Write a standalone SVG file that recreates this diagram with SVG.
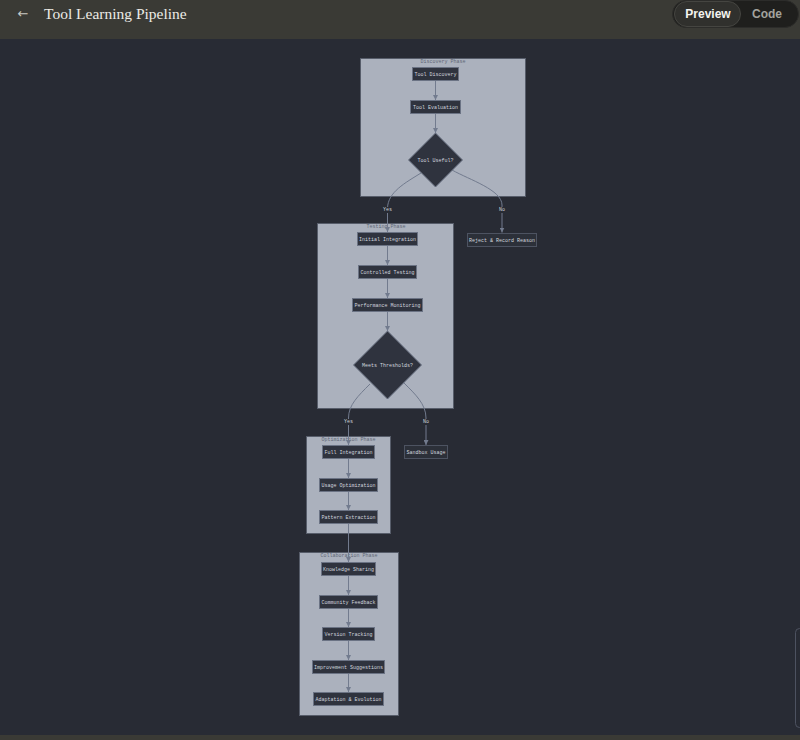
<svg xmlns="http://www.w3.org/2000/svg" width="800" height="740" viewBox="0 0 800 740">
  <defs>
    <marker id="arrow" viewBox="0 0 10 10" refX="10" refY="5" markerWidth="5" markerHeight="5" markerUnits="userSpaceOnUse" orient="auto">
      <path d="M0,0 L10,5 L0,10 z" fill="#727b8e"/>
    </marker>
    <style>
      .cluster { fill: #abb1bd; stroke: #575d6a; stroke-width: 1; }
      .ctitle { font-family: "Liberation Mono", "DejaVu Sans Mono", monospace; font-size: 5px; fill: #5f6776; text-anchor: middle; }
      .node rect, .node polygon { fill: #2f333e; stroke: #6b7384; stroke-width: 1; }
      .node.out rect { fill: #2c3039; stroke: #4d5361; }
      .node text { font-family: "Liberation Mono", "DejaVu Sans Mono", monospace; font-size: 5px; fill: #d2d6de; text-anchor: middle; dominant-baseline: central; }
      .edge { fill: none; stroke: #727b8e; stroke-width: 1; marker-end: url(#arrow); }
      .elabel { font-family: "Liberation Mono", "DejaVu Sans Mono", monospace; font-size: 5px; fill: #cfd3db; text-anchor: middle; dominant-baseline: central; }
    </style>
  </defs>

  <!-- page background and app chrome -->
  <rect x="0" y="0" width="800" height="740" fill="#282b34"/>
  <rect x="0" y="0" width="800" height="39" fill="#3a3a35"/>
  <rect x="0" y="735" width="800" height="5" fill="#3a3a35"/>
  <text x="23" y="13.5" font-family="DejaVu Sans, sans-serif" font-size="13" fill="#c9c9c4" text-anchor="middle" dominant-baseline="central">←</text>
  <text x="44" y="13" font-family="Liberation Serif, serif" font-size="15.5" fill="#ecebe6" dominant-baseline="central">Tool Learning Pipeline</text>
  <rect x="672.5" y="0.5" width="126" height="27" rx="13.5" fill="#1f1f1d" stroke="#2c2c2a"/>
  <rect x="674.5" y="1.5" width="66" height="25" rx="12.5" fill="#30302d" stroke="#454541"/>
  <text x="708" y="14" font-family="Liberation Sans, Arial, sans-serif" font-size="12" font-weight="bold" fill="#f4f4f0" text-anchor="middle" dominant-baseline="central">Preview</text>
  <text x="767" y="14" font-family="Liberation Sans, Arial, sans-serif" font-size="12" font-weight="bold" fill="#a3a39d" text-anchor="middle" dominant-baseline="central">Code</text>
  <rect x="795.5" y="628.5" width="20" height="99" rx="4" fill="none" stroke="#4d5260"/>

  <!-- phase clusters -->
  <g id="discovery-phase">
    <rect class="cluster" x="360.5" y="58.5" width="165" height="138"/>
    <text class="ctitle" x="443" y="63">Discovery Phase</text>
  </g>
  <g id="testing-phase">
    <rect class="cluster" x="317.5" y="223.5" width="136" height="185"/>
    <text class="ctitle" x="386" y="228">Testing Phase</text>
  </g>
  <g id="optimization-phase">
    <rect class="cluster" x="306.5" y="436.5" width="84" height="97"/>
    <text class="ctitle" x="348.5" y="441">Optimization Phase</text>
  </g>
  <g id="collaboration-phase">
    <rect class="cluster" x="299.5" y="552.5" width="99" height="163"/>
    <text class="ctitle" x="349" y="557">Collaboration Phase</text>
  </g>

  <!-- connectors -->
  <g id="connectors">
    <path class="edge" d="M435.5,81 L435.5,100"/>
    <path class="edge" d="M435.5,114 L435.5,133"/>
    <path class="edge" d="M421,173 C405,183 388,192 387.5,208 L387.5,232"/>
    <path class="edge" d="M452,170 C470,180 502,190 502,205 L502,232.5"/>
    <path class="edge" d="M387.5,246 L387.5,265"/>
    <path class="edge" d="M387.5,279 L387.5,298"/>
    <path class="edge" d="M387.5,312 L387.5,331"/>
    <path class="edge" d="M370,384 C358,396 348.5,405 348.5,418 L348.5,445"/>
    <path class="edge" d="M404,383 C415,394 426,404 426,418 L426,445"/>
    <path class="edge" d="M348.5,459 L348.5,478"/>
    <path class="edge" d="M348.5,492 L348.5,510"/>
    <path class="edge" d="M348.5,524 L348.5,562"/>
    <path class="edge" d="M348.5,576 L348.5,595"/>
    <path class="edge" d="M348.5,609 L348.5,627"/>
    <path class="edge" d="M348.5,641 L348.5,660"/>
    <path class="edge" d="M348.5,674 L348.5,692"/>
    <rect x="381" y="207" width="13" height="6" fill="#282b34"/>
    <text class="elabel" x="387.5" y="210">Yes</text>
    <rect x="497" y="207" width="10" height="6" fill="#282b34"/>
    <text class="elabel" x="502" y="210">No</text>
    <rect x="342" y="419" width="13" height="6" fill="#282b34"/>
    <text class="elabel" x="348.5" y="422">Yes</text>
    <rect x="421" y="419" width="10" height="6" fill="#282b34"/>
    <text class="elabel" x="426" y="422">No</text>
  </g>

  <!-- nodes -->
  <g id="tool-discovery" class="node">
    <rect x="412.5" y="67.5" width="46" height="13"/>
    <text x="435.5" y="74.5">Tool Discovery</text>
  </g>
  <g id="tool-evaluation" class="node">
    <rect x="410.5" y="100.5" width="50" height="13"/>
    <text x="435.5" y="107.5">Tool Evaluation</text>
  </g>
  <g id="tool-useful" class="node">
    <polygon points="435.5,133 462.5,160 435.5,187 408.5,160"/>
    <text x="435.5" y="160.5">Tool Useful?</text>
  </g>
  <g id="reject-record" class="node out">
    <rect x="467.5" y="233.5" width="69" height="13"/>
    <text x="502" y="240.5">Reject &amp; Record Reason</text>
  </g>
  <g id="initial-integration" class="node">
    <rect x="357.5" y="232.5" width="60" height="13"/>
    <text x="387.5" y="239.5">Initial Integration</text>
  </g>
  <g id="controlled-testing" class="node">
    <rect x="358.5" y="265.5" width="58" height="13"/>
    <text x="387.5" y="272.5">Controlled Testing</text>
  </g>
  <g id="performance-monitoring" class="node">
    <rect x="352.5" y="298.5" width="70" height="13"/>
    <text x="387.5" y="305.5">Performance Monitoring</text>
  </g>
  <g id="meets-thresholds" class="node">
    <polygon points="387.5,331 421.5,365 387.5,399 353.5,365"/>
    <text x="387.5" y="365.5">Meets Thresholds?</text>
  </g>
  <g id="sandbox-usage" class="node out">
    <rect x="404.5" y="445.5" width="43" height="13"/>
    <text x="426" y="452.5">Sandbox Usage</text>
  </g>
  <g id="full-integration" class="node">
    <rect x="322.5" y="445.5" width="52" height="13"/>
    <text x="348.5" y="452.5">Full Integration</text>
  </g>
  <g id="usage-optimization" class="node">
    <rect x="319.5" y="478.5" width="58" height="13"/>
    <text x="348.5" y="485.5">Usage Optimization</text>
  </g>
  <g id="pattern-extraction" class="node">
    <rect x="319.5" y="510.5" width="58" height="13"/>
    <text x="348.5" y="517.5">Pattern Extraction</text>
  </g>
  <g id="knowledge-sharing" class="node">
    <rect x="321.5" y="562.5" width="54" height="13"/>
    <text x="348.5" y="569.5">Knowledge Sharing</text>
  </g>
  <g id="community-feedback" class="node">
    <rect x="319.5" y="595.5" width="58" height="13"/>
    <text x="348.5" y="602.5">Community Feedback</text>
  </g>
  <g id="version-tracking" class="node">
    <rect x="322.5" y="627.5" width="52" height="13"/>
    <text x="348.5" y="634.5">Version Tracking</text>
  </g>
  <g id="improvement-suggestions" class="node">
    <rect x="312.5" y="660.5" width="72" height="13"/>
    <text x="348.5" y="667.5">Improvement Suggestions</text>
  </g>
  <g id="adaptation-evolution" class="node">
    <rect x="313.5" y="692.5" width="70" height="13"/>
    <text x="348.5" y="699.5">Adaptation &amp; Evolution</text>
  </g>
</svg>
